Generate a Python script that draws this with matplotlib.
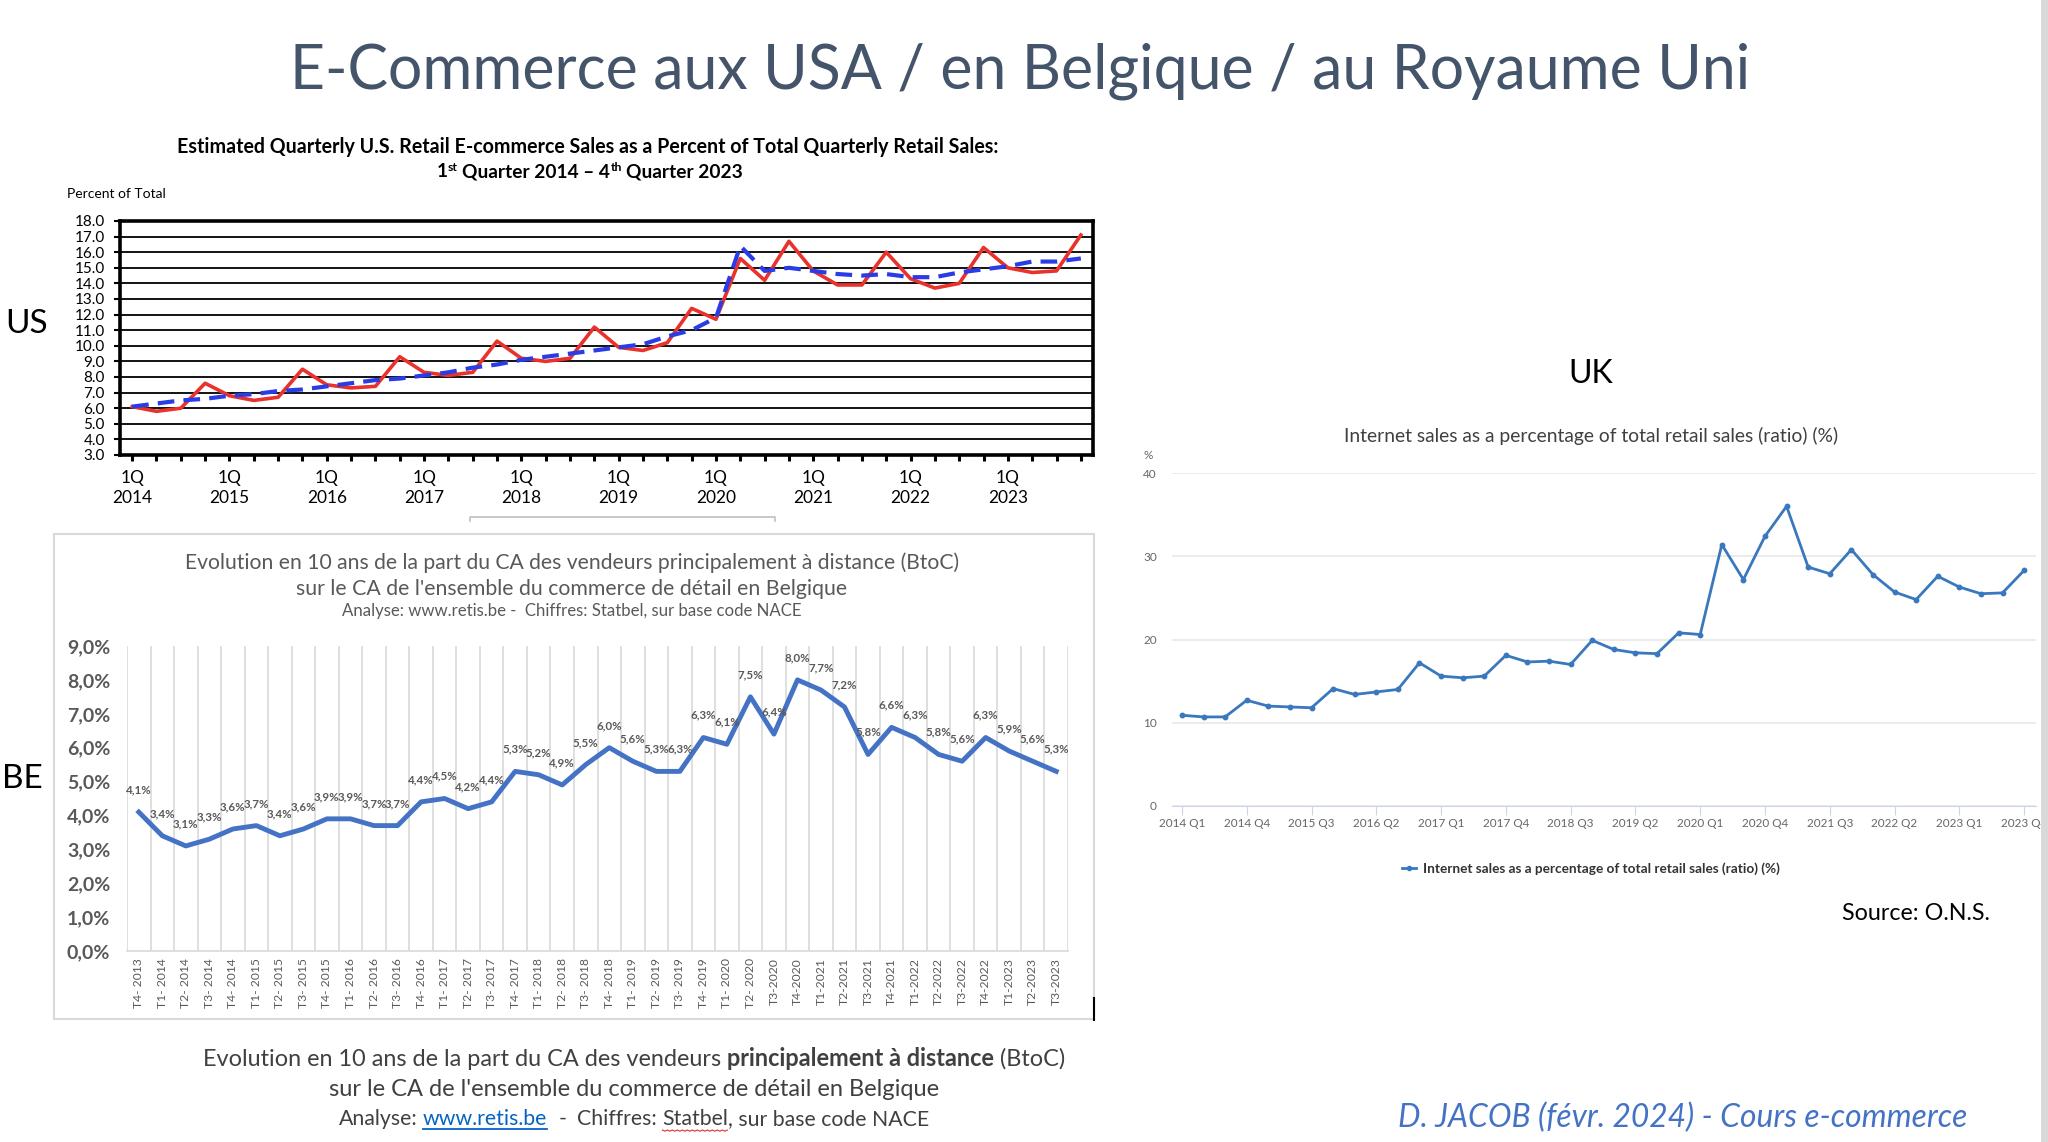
import numpy as np
import matplotlib
matplotlib.use("Agg")
import matplotlib.pyplot as plt
from matplotlib.lines import Line2D
from matplotlib.patches import Rectangle

plt.rcParams['font.family'] = ['Lato', 'DejaVu Sans']

W, H = 2048, 1142

# ---------------- data ----------------
# US: e-commerce share of retail sales, 1Q2014 .. 4Q2023
us_years = [2014, 2015, 2016, 2017, 2018, 2019, 2020, 2021, 2022, 2023]
us_nsa = [6.1, 5.8, 6.0, 7.6, 6.8, 6.5, 6.7, 8.5, 7.5, 7.3, 7.4, 9.3,
          8.3, 8.1, 8.3, 10.3, 9.2, 9.0, 9.2, 11.2, 9.9, 9.7, 10.2, 12.4,
          11.7, 15.6, 14.2, 16.7, 14.8, 13.9, 13.9, 16.0, 14.3, 13.7, 14.0, 16.3,
          15.0, 14.7, 14.8, 17.1]
us_sa = [6.1, 6.3, 6.5, 6.6, 6.8, 6.9, 7.1, 7.2, 7.4, 7.6, 7.8, 7.9,
         8.1, 8.3, 8.6, 8.8, 9.1, 9.3, 9.5, 9.7, 9.9, 10.1, 10.6, 11.0,
         11.8, 16.4, 14.8, 15.0, 14.8, 14.6, 14.5, 14.6, 14.4, 14.4, 14.7, 14.9,
         15.1, 15.4, 15.4, 15.6]

# Belgium: share of distance sellers (BtoC), T4-2013 .. T3-2023
be_cats = ['T4- 2013',
           'T1- 2014', 'T2- 2014', 'T3- 2014', 'T4- 2014',
           'T1- 2015', 'T2- 2015', 'T3- 2015', 'T4- 2015',
           'T1- 2016', 'T2- 2016', 'T3- 2016', 'T4- 2016',
           'T1- 2017', 'T2- 2017', 'T3- 2017', 'T4- 2017',
           'T1- 2018', 'T2- 2018', 'T3- 2018', 'T4- 2018',
           'T1- 2019', 'T2- 2019', 'T3- 2019', 'T4- 2019',
           'T1- 2020', 'T2- 2020', 'T3-2020', 'T4-2020',
           'T1-2021', 'T2-2021', 'T3-2021', 'T4-2021',
           'T1-2022', 'T2-2022', 'T3-2022', 'T4-2022',
           'T1-2023', 'T2-2023', 'T3-2023']
be_vals = [4.1, 3.4, 3.1, 3.3, 3.6, 3.7, 3.4, 3.6, 3.9, 3.9, 3.7, 3.7,
           4.4, 4.5, 4.2, 4.4, 5.3, 5.2, 4.9, 5.5, 6.0, 5.6, 5.3, 5.3,
           6.3, 6.1, 7.5, 6.4, 8.0, 7.7, 7.2, 5.8, 6.6, 6.3, 5.8, 5.6,
           6.3, 5.9, 5.6, 5.3]
be_labels = ['4,1%', '3,4%', '3,1%', '3,3%', '3,6%', '3,7%', '3,4%', '3,6%',
             '3,9%', '3,9%', '3,7%', '3,7%', '4,4%', '4,5%', '4,2%', '4,4%',
             '5,3%', '5,2%', '4,9%', '5,5%', '6,0%', '5,6%', '5,3%', '6,3%',
             '6,3%', '6,1%', '7,5%', '6,4%', '8,0%', '7,7%', '7,2%', '5,8%',
             '6,6%', '6,3%', '5,8%', '5,6%', '6,3%', '5,9%', '5,6%', '5,3%']

# UK: internet sales as % of total retail sales, 2014 Q1 .. 2023 Q4
uk_vals = [10.9, 10.7, 10.7, 12.7, 12.0, 11.9, 11.8, 14.1, 13.4, 13.7, 14.0, 17.2,
           15.6, 15.4, 15.6, 18.1, 17.3, 17.4, 17.0, 19.9, 18.8, 18.4, 18.3, 20.8,
           20.6, 31.4, 27.2, 32.4, 36.0, 28.7, 27.9, 30.8, 27.8, 25.7, 24.8, 27.6,
           26.3, 25.5, 25.6, 28.3]
uk_ticklabels = ['2014 Q1', '2014 Q4', '2015 Q3', '2016 Q2', '2017 Q1', '2017 Q4',
                 '2018 Q3', '2019 Q2', '2020 Q1', '2020 Q4', '2021 Q3', '2022 Q2',
                 '2023 Q1', '2023 Q4']
uk_name = 'Internet sales as a percentage of total retail sales (ratio) (%)'


def fx(x):
    return x / W


def fy(y):
    return 1 - y / H


def box(l, t, r, b):
    return [l / W, 1 - b / H, (r - l) / W, (b - t) / H]


fig = plt.figure(figsize=(W / 100, H / 100), dpi=100)
fig.patch.set_facecolor('white')
rend = fig.canvas.get_renderer()


def text_w(s, **kw):
    t = fig.text(0, 0, s, **kw)
    w = t.get_window_extent(rend).width
    t.remove()
    return w


def _place(segs, xc, y, size, color, k):
    items = []
    for s, p in segs:
        p = dict(p)
        dy = p.pop('dy', 0) * k
        gap = p.pop('gap', 0)
        fs = p.pop('size', size) * k
        col = p.pop('color', color)
        t = fig.text(0, fy(y - dy), s, fontsize=fs, color=col, va='baseline', ha='left', **p)
        sp = text_w('x x', fontsize=size * k, **p) - text_w('xx', fontsize=size * k, **p)
        items.append((t, gap * sp))
    widths = [t.get_window_extent(rend).width for t, g in items]
    total = sum(widths) + sum(g for t, g in items)
    x = xc - total / 2
    spans = []
    for (t, g), w in zip(items, widths):
        x += g
        t.set_x(fx(x))
        spans.append((x, x + w))
        x += w
    return spans, [t for t, g in items]


def rich(segs, xc, y, size, color, width=None):
    """text pieces side by side, centered on xc, baseline at y (pixels)"""
    spans, texts = _place(segs, xc, y, size, color, 1.0)
    if width:
        k = width / (spans[-1][1] - spans[0][0])
        for t in texts:
            t.remove()
        spans, texts = _place(segs, xc, y, size, color, k)
    return spans


# ---------------- page texts ----------------
rich([('E-Commerce aux USA / en Belgique / au Royaume Uni', {})], 1020, 88, 41, '#44546a', width=1465)
fig.text(fx(27), fy(333), 'US', fontsize=24, ha='center', va='baseline')
fig.text(fx(22), fy(788), 'BE', fontsize=24, ha='center', va='baseline')
fig.text(fx(1591), fy(383), 'UK', fontsize=23, ha='center', va='baseline')

# ---------------- US chart ----------------
rich([('Estimated Quarterly U.S. Retail E-commerce Sales as a Percent of Total Quarterly Retail Sales:',
       {'fontweight': 'bold'})], 588, 153, 12.5, 'black', width=823)
rich([('1', {'fontweight': 'bold'}),
      ('st', {'fontweight': 'bold', 'size': 8, 'dy': 5}),
      ('Quarter 2014 \u2013 4', {'fontweight': 'bold', 'gap': 1}),
      ('th', {'fontweight': 'bold', 'size': 8, 'dy': 5}),
      ('Quarter 2023', {'fontweight': 'bold', 'gap': 1})], 590, 177, 12.5, 'black', width=308)
fig.text(fx(67), fy(198), 'Percent of Total', fontsize=10, va='baseline')

ax1 = fig.add_axes(box(120, 221, 1093, 455))
xq = np.arange(len(us_nsa))
ax1.plot(xq, us_nsa, color='#e8322b', lw=2.6, zorder=3)
ax1.plot(xq, us_sa, color='#2a3ce6', lw=3.0, ls=(0, (4.0, 2.2)), zorder=4)
ax1.set_xlim(-0.5, 39.5)
ax1.set_ylim(3, 18)
ax1.set_yticks(np.arange(3, 19))
ax1.yaxis.set_major_formatter(lambda v, p: f'{v:.1f}')
ax1.grid(axis='y', color='black', lw=1.3)
ax1.set_axisbelow(True)
for sp in ax1.spines.values():
    sp.set_linewidth(2.6)
us_xlabels = []
for yr in us_years:
    us_xlabels += [f'1Q\n{yr}', '', '', '']
ax1.set_xticks(xq)
ax1.set_xticklabels(us_xlabels)
for lab in ax1.get_xticklabels():
    lab.set_linespacing(1.3)
ax1.tick_params(axis='x', length=4, width=2.2, pad=7, labelsize=12.5)
ax1.tick_params(axis='y', length=4, width=1.5, pad=7, labelsize=11)

# grey frame edge under the US chart
fig.add_artist(Line2D([fx(470), fx(470), fx(775), fx(775)], [fy(521), fy(517), fy(517), fy(521)],
                      transform=fig.transFigure, color='#bfbfbf', lw=1.2))

# ---------------- BE chart ----------------
fig.add_artist(Rectangle((fx(54), fy(1019)), (1094 - 54) / W, (1019 - 534) / H,
                         transform=fig.transFigure, fill=False, edgecolor='#d9d9d9', lw=1.5))
fig.add_artist(Line2D([fx(1094), fx(1094)], [fy(998), fy(1020)],
                      transform=fig.transFigure, color='black', lw=1.5))
rich([('Evolution en 10 ans de la part du CA des vendeurs principalement à distance (BtoC)', {})],
     572, 569, 13.2, '#595959', width=776)
rich([("sur le CA de l'ensemble du commerce de détail en Belgique", {})],
     572, 595, 13.2, '#595959', width=552)
rich([('Analyse: www.retis.be -  Chiffres: Statbel, sur base code NACE', {})],
     572, 616, 9.8, '#595959', width=461)

ax2 = fig.add_axes(box(127, 646, 1068, 951))
xb = np.arange(len(be_vals))
ax2.plot(xb, be_vals, color='#4472c4', lw=3.5, solid_joinstyle='round', zorder=3)
for i, (v, lab) in enumerate(zip(be_vals, be_labels)):
    ax2.annotate(lab, (i, v), xytext=(0, 12), textcoords='offset points', ha='center',
                 va='bottom', fontsize=8.3, fontweight='bold', color='#595959', zorder=4)
ax2.set_xlim(-0.5, 39.5)
ax2.set_ylim(0, 9)
ax2.set_yticks(np.arange(0, 10))
ax2.yaxis.set_major_formatter(lambda v, p: f'{v:.1f}%'.replace('.', ','))
ax2.set_xticks(xb)
ax2.set_xticklabels(be_cats, rotation=90)
ax2.set_xticks(np.arange(-0.5, 40, 1), minor=True)
ax2.grid(axis='x', which='minor', color='#d9d9d9', lw=1.2)
ax2.tick_params(which='both', length=0)
ax2.tick_params(axis='y', labelsize=14, labelcolor='#595959', pad=12)
ax2.tick_params(axis='x', labelsize=8.7, labelcolor='#595959', pad=5)
for t in ax2.get_yticklabels():
    t.set_fontweight('bold')
for s in ['left', 'top', 'right']:
    ax2.spines[s].set_visible(False)
ax2.spines['bottom'].set_color('#d9d9d9')
ax2.spines['bottom'].set_linewidth(1.2)

# caption under the BE chart
rich([('Evolution en 10 ans de la part du CA des vendeurs', {}),
      ('principalement à distance', {'fontweight': 'bold', 'gap': 1}),
      ('(BtoC)', {'gap': 1})], 634, 1066, 15, '#404040', width=867)
rich([("sur le CA de l'ensemble du commerce de détail en Belgique", {})], 634, 1096, 15, '#404040',
     width=612)
spans = rich([('Analyse:', {}),
              ('www.retis.be', {'color': '#0563c1', 'gap': 1}),
              ('-', {'gap': 2}),
              ('Chiffres:', {'gap': 2}),
              ('Statbel', {'gap': 1}),
              (', sur base code NACE', {})], 634, 1125, 14, '#404040', width=591)
x0, x1 = spans[1]
fig.add_artist(Line2D([fx(x0), fx(x1)], [fy(1129), fy(1129)], transform=fig.transFigure,
                      color='#0563c1', lw=1.3))
x0, x1 = spans[4]
zz = np.arange(x0, x1, 2.5)
fig.add_artist(Line2D(fx(zz), fy(1130 + 1.2 * (np.arange(len(zz)) % 2)), transform=fig.transFigure,
                      color='#e03030', lw=0.8))

rich([('D. JACOB (févr. 2024) - Cours e-commerce', {'style': 'italic'})], 1683, 1127, 20,
     '#4472c4', width=570)

# ---------------- UK chart ----------------
rich([(uk_name, {})], 1591, 442, 12.5, '#404040', width=497)
ax3 = fig.add_axes(box(1172, 473, 2036, 806))
xu = np.arange(len(uk_vals))
ax3.plot(xu, uk_vals, color='#3a78bd', lw=2, marker='o', ms=3.2, zorder=3)
ax3.set_xlim(-0.46, 39.55)
ax3.set_ylim(0, 40)
ax3.set_yticks([0, 10, 20, 30, 40])
ax3.grid(axis='y', color='#e6e6e6', lw=1.1)
ax3.set_axisbelow(True)
ax3.set_xticks(xu[::3])
ax3.set_xticklabels(uk_ticklabels)
for s in ['left', 'top', 'right']:
    ax3.spines[s].set_visible(False)
ax3.spines['bottom'].set_color('#ccd6eb')
ax3.tick_params(axis='x', length=6.5, color='#ccd6eb', labelcolor='#666666', labelsize=8.5, pad=2)
ax3.tick_params(axis='y', length=0, labelcolor='#666666', labelsize=8.5, pad=11)
fig.text(fx(1148), fy(456), '%', fontsize=8.5, color='#666666', ha='center', va='center')

fig.legend(handles=[Line2D([], [], color='#3a78bd', lw=2, marker='o', ms=3)], labels=[uk_name],
           loc='center', bbox_to_anchor=(fx(1591), fy(869)), frameon=False,
           prop={'weight': 'bold', 'size': 9.8}, labelcolor='#333333',
           handlelength=1.0, handletextpad=0.5)
rich([('Source: O.N.S.', {})], 1916, 920, 15, 'black', width=148)

# slide edge on the right
fig.add_artist(Rectangle((fx(2041), 0), 7 / W, 1, transform=fig.transFigure, color='#d9d9d9', lw=0))

fig.savefig('out.png', dpi=100)
